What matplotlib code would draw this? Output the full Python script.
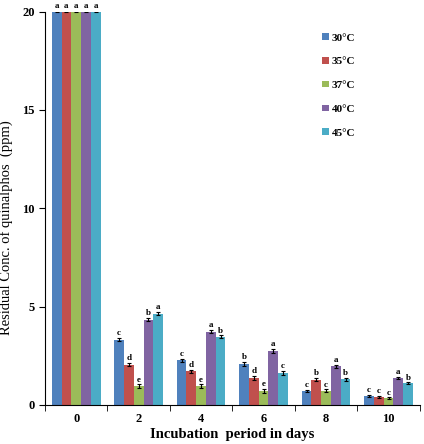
import matplotlib.pyplot as plt
import numpy as np

plt.rcParams['font.family'] = ['Liberation Serif', 'DejaVu Serif']
plt.rcParams['font.weight'] = 'bold'

# Data
days = ['0', '2', '4', '6', '8', '10']
temps = ['30°C', '35°C', '37°C', '40°C', '45°C']
colors = ['#4F81BD', '#C0504D', '#9BBB59', '#8064A2', '#4BACC6']

conc_30 = [20.0, 3.32, 2.27, 2.10, 0.71, 0.47]
conc_35 = [20.0, 2.04, 1.72, 1.39, 1.29, 0.40]
conc_37 = [20.0, 0.96, 0.96, 0.71, 0.72, 0.33]
conc_40 = [20.0, 4.33, 3.72, 2.75, 1.96, 1.36]
conc_45 = [20.0, 4.64, 3.46, 1.64, 1.30, 1.10]
errors = [0.03, 0.08, 0.08, 0.10, 0.07, 0.05]

letters_30 = ['a', 'c', 'c', 'b', 'c', 'c']
letters_35 = ['a', 'd', 'd', 'd', 'b', 'c']
letters_37 = ['a', 'e', 'e', 'e', 'c', 'c']
letters_40 = ['a', 'b', 'a', 'a', 'a', 'a']
letters_45 = ['a', 'a', 'b', 'c', 'b', 'b']

series = [conc_30, conc_35, conc_37, conc_40, conc_45]
letters = [letters_30, letters_35, letters_37, letters_40, letters_45]

fig = plt.figure(figsize=(4.24, 4.44), dpi=100)
ax = fig.add_axes([0.106, 0.088, 0.884, 0.886])

x = np.arange(len(days))
width = 0.156
for i, (vals, lab) in enumerate(zip(series, letters)):
    pos = x + (i - 2) * width
    ax.bar(pos, vals, width, color=colors[i], label=temps[i],
           yerr=errors, error_kw=dict(ecolor='black', elinewidth=0.8, capsize=1.5, capthick=0.8))
    for p, v, e, t in zip(pos, vals, errors, lab):
        ax.text(p, v + e + 0.04, t, ha='center', va='bottom', fontsize=6.5,
                fontweight='bold', clip_on=False)

ax.set_xlim(-0.5, 5.5)
ax.set_ylim(0, 20)
ax.set_yticks([0, 5, 10, 15, 20])
ax.set_xticks(x)
ax.set_xticklabels(days)
ax.set_xticks(np.arange(-0.5, 6, 1), minor=True)
ax.tick_params(axis='x', which='major', length=0, pad=6, labelsize=9)
ax.tick_params(axis='x', which='minor', length=4, direction='out')
ax.tick_params(axis='y', length=4, direction='out', labelsize=9)
for s in ['top', 'right']:
    ax.spines[s].set_visible(False)

ax.set_xlabel('Incubation  period in days', fontsize=10.5, fontweight='bold', labelpad=2)
ax.set_ylabel('Residual Conc. of quinalphos  (ppm)', fontsize=10.5, fontweight='normal')
ax.yaxis.set_label_coords(-0.085, 0.45)

ax.legend(loc='upper right', bbox_to_anchor=(0.855, 0.97), frameon=False, fontsize=8,
          handlelength=0.55, handleheight=0.55, handletextpad=0.3, labelspacing=1.3)

plt.savefig('out.png', dpi=100)
